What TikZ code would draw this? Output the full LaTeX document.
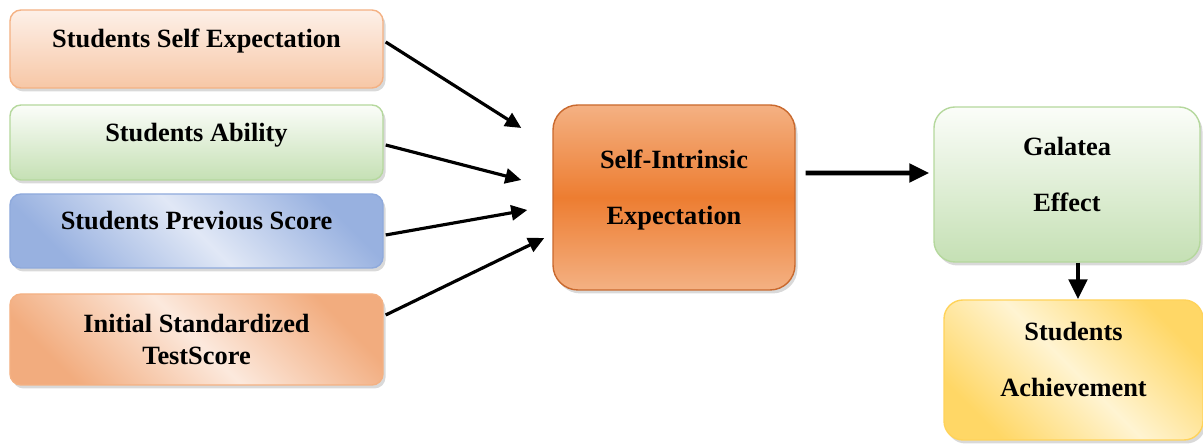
\documentclass[tikz,border=0pt]{standalone}
\usepackage{fontspec}
\setmainfont{Liberation Serif}
\usetikzlibrary{arrows.meta,calc,shadows}
\definecolor{peachline}{HTML}{F4B183}
\definecolor{peachtop}{HTML}{FDF0E8}
\definecolor{peachbottom}{HTML}{F7C7A6}
\definecolor{greenline}{HTML}{B5D89D}
\definecolor{greentop}{HTML}{FBFDF9}
\definecolor{greenbottom}{HTML}{C5E0B4}
\definecolor{blueline}{HTML}{8FAADC}
\definecolor{bluedark}{HTML}{98B1E0}
\definecolor{bluelight}{HTML}{E1E8F6}
\definecolor{orangedark}{HTML}{F2AC7E}
\definecolor{orangelight}{HTML}{FCE9DD}
\definecolor{intrinsicline}{HTML}{C9692E}
\definecolor{intrinsicmid}{HTML}{ED7D31}
\definecolor{intrinsicedge}{HTML}{F4B183}
\definecolor{yellowline}{HTML}{FFD35A}
\definecolor{yellowdark}{HTML}{FFD766}
\definecolor{yellowlight}{HTML}{FFF4D2}
\tikzset{
  box/.style={
    draw=#1,
    line width=0.8pt,
    rounded corners=0.22cm,
    align=center,
    text depth=0.42cm,
    font=\fontsize{15}{18}\selectfont\bfseries,
    drop shadow={opacity=0.3, shadow xshift=0.05cm, shadow yshift=-0.07cm}
  },
  vfade/.style 2 args={top color=#1, bottom color=#2},
  dfade/.style 2 args={left color=#1, right color=#1, middle color=#2, shading angle=135},
  tallskip/.style={font=\fontsize{15}{32}\selectfont\bfseries},
  wire/.style={
    draw=black,
    line width=1.8pt,
    -{Triangle[length=3.2mm,width=3mm]}
  },
  heavywire/.style={
    draw=black,
    line width=2.8pt,
    -{Triangle[length=4mm,width=3.6mm]}
  }
}

\begin{document}
\begin{tikzpicture}
  \path[use as bounding box] (0,0) rectangle (24.06,8.9);

  % inputs
  \node[box=peachline, vfade={peachtop}{peachbottom},
        minimum width=7.46cm, minimum height=1.56cm]
    (selfexp) at (3.93,7.92) {Students Self Expectation};
  \node[box=greenline, vfade={greentop}{greenbottom},
        minimum width=7.46cm, minimum height=1.5cm]
    (ability) at (3.93,6.05) {Students Ability};
  \node[box=blueline, dfade={bluedark}{bluelight},
        minimum width=7.46cm, minimum height=1.48cm]
    (previous) at (3.93,4.28) {Students Previous Score};
  \node[box=peachline, dfade={orangedark}{orangelight}, text depth=0cm,
        minimum width=7.46cm, minimum height=1.82cm]
    (initial) at (3.93,2.11) {Initial Standardized\\TestScore};

  % middle + outcomes
  \node[box=intrinsicline, top color=intrinsicedge, bottom color=intrinsicedge,
        middle color=intrinsicmid, tallskip, rounded corners=0.5cm,
        minimum width=4.84cm, minimum height=3.7cm]
    (intrinsic) at (13.48,4.95) {Self-Intrinsic\\Expectation};
  \node[box=greenline, vfade={greentop}{greenbottom}, tallskip,
        rounded corners=0.42cm, minimum width=5.32cm, minimum height=3.1cm]
    (galatea) at (21.34,5.21) {Galatea\\Effect};
  \node[box=yellowline, dfade={yellowdark}{yellowlight}, tallskip,
        rounded corners=0.38cm, minimum width=5.18cm, minimum height=2.8cm]
    (achieve) at (21.47,1.5) {Students\\Achievement};

  \draw[wire] ($(selfexp.east)+(0.04,0.14)$) -- ($(intrinsic.west)+(-0.62,1.39)$);
  \draw[wire] ($(ability.east)+(0.04,-0.05)$) -- ($(intrinsic.west)+(-0.62,0.35)$);
  \draw[wire] ($(previous.east)+(0.04,-0.08)$) -- ($(intrinsic.west)+(-0.5,-0.25)$);
  \draw[wire] ($(initial.east)+(0.04,0.49)$) -- ($(intrinsic.west)+(-0.16,-0.81)$);

  \draw[heavywire] ($(intrinsic.east)+(0.2,0.49)$) -- ($(galatea.west)+(-0.08,0.23)$);
  \draw[heavywire] ($(galatea.south)+(0.22,0)$) -- ($(achieve.north)+(0.09,0)$);
\end{tikzpicture}
\end{document}
